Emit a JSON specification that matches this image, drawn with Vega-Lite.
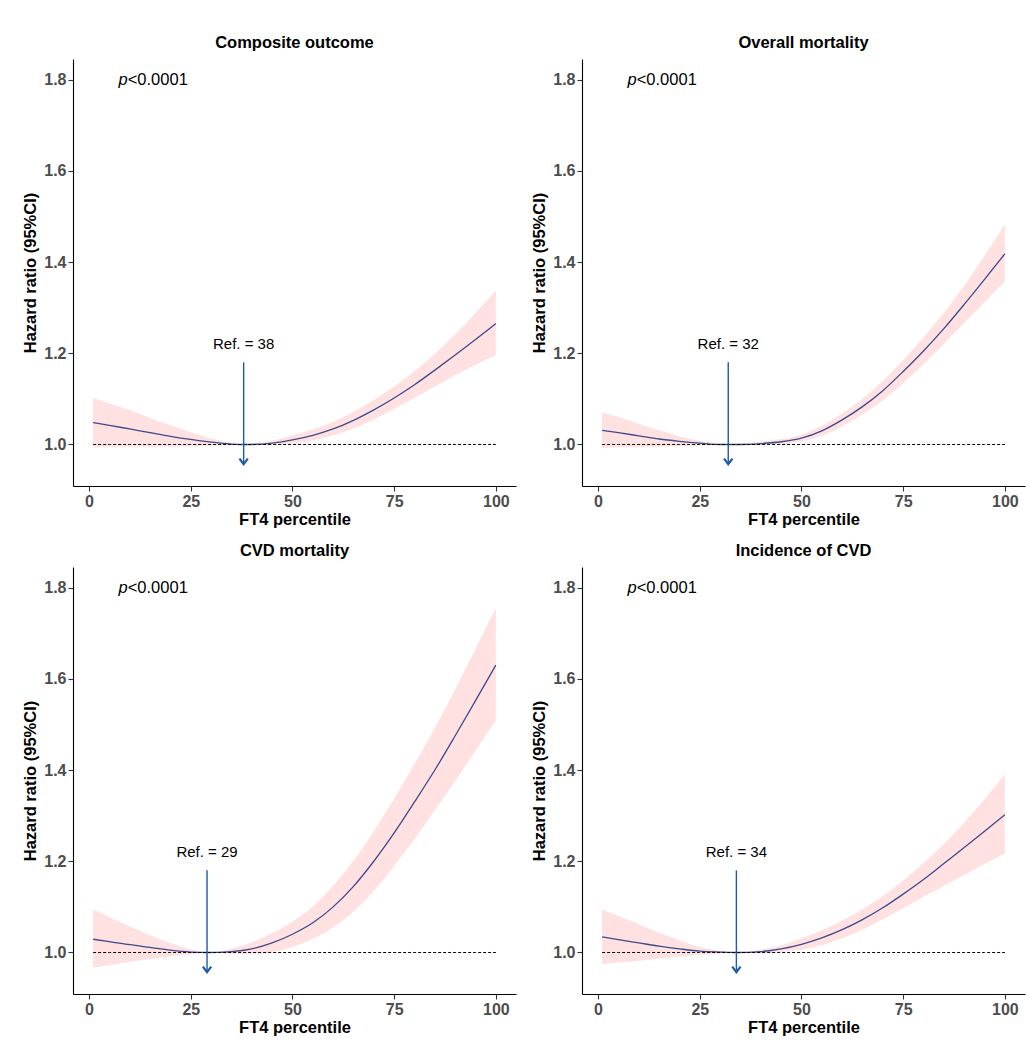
{
  "$schema": "https://vega.github.io/schema/vega-lite/v6.json",
  "padding": {"left": 22, "top": 34, "right": 5, "bottom": 5},
  "background": "white",
  "config": {
    "font": "Liberation Sans",
    "view": {"stroke": null},
    "axis": {
      "grid": false,
      "domainColor": "black",
      "domainWidth": 1.1,
      "tickColor": "#333333",
      "tickSize": 5,
      "tickWidth": 1.1,
      "labelFont": "Liberation Sans",
      "labelFontSize": 16,
      "labelFontWeight": "bold",
      "labelColor": "#4d4d4d",
      "labelPadding": 2,
      "titleFont": "Liberation Sans",
      "titleFontSize": 16.5,
      "titleFontWeight": "bold",
      "titleColor": "black"
    },
    "header": {
      "labelFont": "Liberation Sans",
      "labelFontSize": 16.5,
      "labelFontWeight": "bold",
      "labelColor": "black"
    }
  },
  "data": {
    "values": [
      {"p": "Composite outcome", "kind": "ref", "ref": 38, "label": "Ref. = 38"},
      {"p": "Overall mortality", "kind": "ref", "ref": 32, "label": "Ref. = 32"},
      {"p": "CVD mortality", "kind": "ref", "ref": 29, "label": "Ref. = 29"},
      {"p": "Incidence of CVD", "kind": "ref", "ref": 34, "label": "Ref. = 34"},

      {"p": "Composite outcome", "kind": "curve", "x": 1, "y": 1.048, "lo": 0.994, "hi": 1.102},
      {"p": "Composite outcome", "kind": "curve", "x": 5, "y": 1.042, "lo": 0.995, "hi": 1.090},
      {"p": "Composite outcome", "kind": "curve", "x": 10, "y": 1.034, "lo": 0.995, "hi": 1.075},
      {"p": "Composite outcome", "kind": "curve", "x": 15, "y": 1.026, "lo": 0.995, "hi": 1.058},
      {"p": "Composite outcome", "kind": "curve", "x": 20, "y": 1.018, "lo": 0.995, "hi": 1.042},
      {"p": "Composite outcome", "kind": "curve", "x": 25, "y": 1.011, "lo": 0.996, "hi": 1.027},
      {"p": "Composite outcome", "kind": "curve", "x": 30, "y": 1.005, "lo": 0.997, "hi": 1.013},
      {"p": "Composite outcome", "kind": "curve", "x": 35, "y": 1.001, "lo": 0.999, "hi": 1.003},
      {"p": "Composite outcome", "kind": "curve", "x": 38, "y": 1.000, "lo": 1.000, "hi": 1.000},
      {"p": "Composite outcome", "kind": "curve", "x": 40, "y": 1.000, "lo": 0.999, "hi": 1.002},
      {"p": "Composite outcome", "kind": "curve", "x": 45, "y": 1.003, "lo": 0.999, "hi": 1.008},
      {"p": "Composite outcome", "kind": "curve", "x": 50, "y": 1.010, "lo": 1.002, "hi": 1.020},
      {"p": "Composite outcome", "kind": "curve", "x": 55, "y": 1.020, "lo": 1.009, "hi": 1.033},
      {"p": "Composite outcome", "kind": "curve", "x": 60, "y": 1.034, "lo": 1.020, "hi": 1.050},
      {"p": "Composite outcome", "kind": "curve", "x": 65, "y": 1.053, "lo": 1.035, "hi": 1.072},
      {"p": "Composite outcome", "kind": "curve", "x": 70, "y": 1.076, "lo": 1.055, "hi": 1.098},
      {"p": "Composite outcome", "kind": "curve", "x": 75, "y": 1.102, "lo": 1.078, "hi": 1.127},
      {"p": "Composite outcome", "kind": "curve", "x": 80, "y": 1.131, "lo": 1.102, "hi": 1.161},
      {"p": "Composite outcome", "kind": "curve", "x": 85, "y": 1.163, "lo": 1.127, "hi": 1.199},
      {"p": "Composite outcome", "kind": "curve", "x": 90, "y": 1.196, "lo": 1.152, "hi": 1.241},
      {"p": "Composite outcome", "kind": "curve", "x": 95, "y": 1.230, "lo": 1.175, "hi": 1.288},
      {"p": "Composite outcome", "kind": "curve", "x": 100, "y": 1.265, "lo": 1.196, "hi": 1.338},

      {"p": "Overall mortality", "kind": "curve", "x": 1, "y": 1.031, "lo": 0.993, "hi": 1.070},
      {"p": "Overall mortality", "kind": "curve", "x": 5, "y": 1.026, "lo": 0.994, "hi": 1.060},
      {"p": "Overall mortality", "kind": "curve", "x": 10, "y": 1.019, "lo": 0.994, "hi": 1.045},
      {"p": "Overall mortality", "kind": "curve", "x": 15, "y": 1.012, "lo": 0.995, "hi": 1.031},
      {"p": "Overall mortality", "kind": "curve", "x": 20, "y": 1.007, "lo": 0.996, "hi": 1.018},
      {"p": "Overall mortality", "kind": "curve", "x": 25, "y": 1.003, "lo": 0.998, "hi": 1.008},
      {"p": "Overall mortality", "kind": "curve", "x": 30, "y": 1.000, "lo": 0.999, "hi": 1.002},
      {"p": "Overall mortality", "kind": "curve", "x": 32, "y": 1.000, "lo": 1.000, "hi": 1.000},
      {"p": "Overall mortality", "kind": "curve", "x": 35, "y": 1.000, "lo": 0.999, "hi": 1.002},
      {"p": "Overall mortality", "kind": "curve", "x": 40, "y": 1.002, "lo": 0.999, "hi": 1.006},
      {"p": "Overall mortality", "kind": "curve", "x": 45, "y": 1.006, "lo": 1.001, "hi": 1.012},
      {"p": "Overall mortality", "kind": "curve", "x": 50, "y": 1.014, "lo": 1.006, "hi": 1.022},
      {"p": "Overall mortality", "kind": "curve", "x": 55, "y": 1.030, "lo": 1.019, "hi": 1.041},
      {"p": "Overall mortality", "kind": "curve", "x": 60, "y": 1.054, "lo": 1.040, "hi": 1.068},
      {"p": "Overall mortality", "kind": "curve", "x": 65, "y": 1.083, "lo": 1.066, "hi": 1.100},
      {"p": "Overall mortality", "kind": "curve", "x": 70, "y": 1.118, "lo": 1.097, "hi": 1.139},
      {"p": "Overall mortality", "kind": "curve", "x": 75, "y": 1.160, "lo": 1.135, "hi": 1.185},
      {"p": "Overall mortality", "kind": "curve", "x": 80, "y": 1.205, "lo": 1.176, "hi": 1.235},
      {"p": "Overall mortality", "kind": "curve", "x": 85, "y": 1.254, "lo": 1.220, "hi": 1.289},
      {"p": "Overall mortality", "kind": "curve", "x": 90, "y": 1.307, "lo": 1.267, "hi": 1.348},
      {"p": "Overall mortality", "kind": "curve", "x": 95, "y": 1.362, "lo": 1.312, "hi": 1.414},
      {"p": "Overall mortality", "kind": "curve", "x": 100, "y": 1.418, "lo": 1.357, "hi": 1.482},

      {"p": "CVD mortality", "kind": "curve", "x": 1, "y": 1.029, "lo": 0.967, "hi": 1.094},
      {"p": "CVD mortality", "kind": "curve", "x": 5, "y": 1.024, "lo": 0.972, "hi": 1.078},
      {"p": "CVD mortality", "kind": "curve", "x": 10, "y": 1.017, "lo": 0.979, "hi": 1.057},
      {"p": "CVD mortality", "kind": "curve", "x": 15, "y": 1.011, "lo": 0.985, "hi": 1.038},
      {"p": "CVD mortality", "kind": "curve", "x": 20, "y": 1.005, "lo": 0.991, "hi": 1.021},
      {"p": "CVD mortality", "kind": "curve", "x": 25, "y": 1.001, "lo": 0.996, "hi": 1.007},
      {"p": "CVD mortality", "kind": "curve", "x": 29, "y": 1.000, "lo": 1.000, "hi": 1.000},
      {"p": "CVD mortality", "kind": "curve", "x": 35, "y": 1.002, "lo": 0.997, "hi": 1.008},
      {"p": "CVD mortality", "kind": "curve", "x": 40, "y": 1.008, "lo": 0.996, "hi": 1.022},
      {"p": "CVD mortality", "kind": "curve", "x": 45, "y": 1.021, "lo": 1.001, "hi": 1.042},
      {"p": "CVD mortality", "kind": "curve", "x": 50, "y": 1.040, "lo": 1.012, "hi": 1.068},
      {"p": "CVD mortality", "kind": "curve", "x": 55, "y": 1.065, "lo": 1.030, "hi": 1.101},
      {"p": "CVD mortality", "kind": "curve", "x": 60, "y": 1.100, "lo": 1.055, "hi": 1.147},
      {"p": "CVD mortality", "kind": "curve", "x": 65, "y": 1.145, "lo": 1.090, "hi": 1.201},
      {"p": "CVD mortality", "kind": "curve", "x": 70, "y": 1.200, "lo": 1.135, "hi": 1.266},
      {"p": "CVD mortality", "kind": "curve", "x": 75, "y": 1.262, "lo": 1.190, "hi": 1.337},
      {"p": "CVD mortality", "kind": "curve", "x": 80, "y": 1.330, "lo": 1.249, "hi": 1.413},
      {"p": "CVD mortality", "kind": "curve", "x": 85, "y": 1.400, "lo": 1.312, "hi": 1.492},
      {"p": "CVD mortality", "kind": "curve", "x": 90, "y": 1.475, "lo": 1.376, "hi": 1.577},
      {"p": "CVD mortality", "kind": "curve", "x": 95, "y": 1.552, "lo": 1.442, "hi": 1.665},
      {"p": "CVD mortality", "kind": "curve", "x": 100, "y": 1.630, "lo": 1.509, "hi": 1.755},

      {"p": "Incidence of CVD", "kind": "curve", "x": 1, "y": 1.034, "lo": 0.975, "hi": 1.094},
      {"p": "Incidence of CVD", "kind": "curve", "x": 5, "y": 1.028, "lo": 0.978, "hi": 1.080},
      {"p": "Incidence of CVD", "kind": "curve", "x": 10, "y": 1.021, "lo": 0.982, "hi": 1.062},
      {"p": "Incidence of CVD", "kind": "curve", "x": 15, "y": 1.014, "lo": 0.987, "hi": 1.043},
      {"p": "Incidence of CVD", "kind": "curve", "x": 20, "y": 1.008, "lo": 0.991, "hi": 1.027},
      {"p": "Incidence of CVD", "kind": "curve", "x": 25, "y": 1.003, "lo": 0.995, "hi": 1.012},
      {"p": "Incidence of CVD", "kind": "curve", "x": 30, "y": 1.001, "lo": 0.998, "hi": 1.004},
      {"p": "Incidence of CVD", "kind": "curve", "x": 34, "y": 1.000, "lo": 1.000, "hi": 1.000},
      {"p": "Incidence of CVD", "kind": "curve", "x": 40, "y": 1.002, "lo": 0.999, "hi": 1.006},
      {"p": "Incidence of CVD", "kind": "curve", "x": 45, "y": 1.008, "lo": 1.001, "hi": 1.016},
      {"p": "Incidence of CVD", "kind": "curve", "x": 50, "y": 1.018, "lo": 1.006, "hi": 1.031},
      {"p": "Incidence of CVD", "kind": "curve", "x": 55, "y": 1.032, "lo": 1.016, "hi": 1.049},
      {"p": "Incidence of CVD", "kind": "curve", "x": 60, "y": 1.050, "lo": 1.031, "hi": 1.070},
      {"p": "Incidence of CVD", "kind": "curve", "x": 65, "y": 1.072, "lo": 1.050, "hi": 1.095},
      {"p": "Incidence of CVD", "kind": "curve", "x": 70, "y": 1.098, "lo": 1.073, "hi": 1.124},
      {"p": "Incidence of CVD", "kind": "curve", "x": 75, "y": 1.128, "lo": 1.097, "hi": 1.158},
      {"p": "Incidence of CVD", "kind": "curve", "x": 80, "y": 1.160, "lo": 1.122, "hi": 1.196},
      {"p": "Incidence of CVD", "kind": "curve", "x": 85, "y": 1.195, "lo": 1.146, "hi": 1.238},
      {"p": "Incidence of CVD", "kind": "curve", "x": 90, "y": 1.230, "lo": 1.170, "hi": 1.285},
      {"p": "Incidence of CVD", "kind": "curve", "x": 95, "y": 1.266, "lo": 1.194, "hi": 1.336},
      {"p": "Incidence of CVD", "kind": "curve", "x": 100, "y": 1.302, "lo": 1.217, "hi": 1.391}
    ]
  },
  "facet": {
    "field": "p",
    "type": "nominal",
    "sort": ["Composite outcome", "Overall mortality", "CVD mortality", "Incidence of CVD"],
    "header": {"title": null, "labelPadding": 8}
  },
  "columns": 2,
  "bounds": "flush",
  "spacing": {"column": 66, "row": 81},
  "resolve": {"axis": {"x": "independent", "y": "independent"}},
  "spec": {
    "width": 443,
    "height": 427,
    "layer": [
      {
        "transform": [{"filter": "datum.kind === 'curve'"}],
        "mark": {"type": "area", "color": "#ffe1e1", "interpolate": "monotone"},
        "encoding": {
          "x": {"field": "x", "type": "quantitative", "title": "FT4 percentile",
                "scale": {"domain": [-3.95, 104.95], "nice": false, "zero": false},
                "axis": {"values": [0, 25, 50, 75, 100], "titlePadding": 2.5}},
          "y": {"field": "lo", "type": "quantitative", "title": "Hazard ratio (95%CI)",
                "scale": {"domain": [0.909, 1.845], "nice": false, "zero": false},
                "axis": {"values": [1.0, 1.2, 1.4, 1.6, 1.8], "format": ".1f", "titlePadding": 5}},
          "y2": {"field": "hi"}
        }
      },
      {
        "transform": [{"filter": "datum.kind === 'curve'"}],
        "mark": {"type": "line", "color": "#3d4a8c", "strokeWidth": 1.3, "interpolate": "monotone"},
        "encoding": {
          "x": {"field": "x", "type": "quantitative", "title": "FT4 percentile"},
          "y": {"field": "y", "type": "quantitative", "title": "Hazard ratio (95%CI)"}
        }
      },
      {
        "transform": [{"filter": "datum.kind === 'curve'"}],
        "mark": {"type": "line", "color": "black", "strokeWidth": 1, "strokeDash": [3, 2]},
        "encoding": {
          "x": {"field": "x", "type": "quantitative", "title": "FT4 percentile"},
          "y": {"datum": 1, "type": "quantitative", "title": "Hazard ratio (95%CI)"}
        }
      },
      {
        "transform": [{"filter": "datum.kind === 'ref'"}],
        "mark": {"type": "rule", "color": "#1f5aa6", "strokeWidth": 1.4},
        "encoding": {
          "x": {"field": "ref", "type": "quantitative", "title": "FT4 percentile"},
          "y": {"datum": 1.18, "type": "quantitative", "title": "Hazard ratio (95%CI)"},
          "y2": {"datum": 0.958}
        }
      },
      {
        "transform": [{"filter": "datum.kind === 'ref'"}],
        "mark": {"type": "point", "shape": "M-1,-1.3L0,0L1,-1.3", "filled": false, "stroke": "#1f5aa6", "strokeWidth": 2.2, "size": 70, "opacity": 1},
        "encoding": {
          "x": {"field": "ref", "type": "quantitative", "title": "FT4 percentile"},
          "y": {"datum": 0.957, "type": "quantitative", "title": "Hazard ratio (95%CI)"}
        }
      },
      {
        "transform": [{"filter": "datum.kind === 'ref'"}],
        "mark": {"type": "text", "fontSize": 15, "color": "black", "baseline": "middle", "align": "center"},
        "encoding": {
          "x": {"field": "ref", "type": "quantitative", "title": "FT4 percentile"},
          "y": {"datum": 1.22, "type": "quantitative", "title": "Hazard ratio (95%CI)"},
          "text": {"field": "label"}
        }
      },
      {
        "transform": [{"filter": "datum.kind === 'ref'"}],
        "mark": {"type": "text", "fontSize": 16.5, "fontStyle": "italic", "color": "black", "baseline": "middle", "align": "right", "text": "p"},
        "encoding": {
          "x": {"datum": 9.5, "type": "quantitative", "title": "FT4 percentile"},
          "y": {"datum": 1.8, "type": "quantitative", "title": "Hazard ratio (95%CI)"}
        }
      },
      {
        "transform": [{"filter": "datum.kind === 'ref'"}],
        "mark": {"type": "text", "fontSize": 16.5, "color": "black", "baseline": "middle", "align": "left", "text": "<0.0001"},
        "encoding": {
          "x": {"datum": 9.5, "type": "quantitative", "title": "FT4 percentile"},
          "y": {"datum": 1.8, "type": "quantitative", "title": "Hazard ratio (95%CI)"}
        }
      }
    ]
  }
}
